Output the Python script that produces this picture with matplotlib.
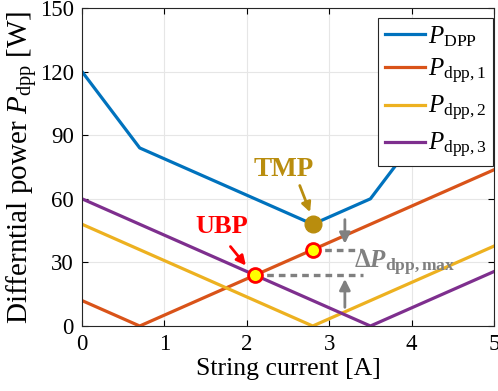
import matplotlib
matplotlib.use("Agg")
import matplotlib.pyplot as plt

plt.rcParams['font.family'] = ['Liberation Serif', 'DejaVu Serif']
plt.rcParams['mathtext.fontset'] = 'custom'
plt.rcParams['mathtext.rm'] = 'Liberation Serif'
plt.rcParams['mathtext.it'] = 'Liberation Serif:italic'
plt.rcParams['mathtext.bf'] = 'Liberation Serif:bold'
plt.rcParams['mathtext.bfit'] = 'Liberation Serif:italic:bold'

# data (vertices)
x_DPP = [0, 0.7, 2.8, 3.5, 5]
y_DPP = [120, 84, 48, 60, 137]
x_d1 = [0, 0.7, 5]
y_d1 = [12, 0, 73.7]
x_d2 = [0, 2.8, 5]
y_d2 = [48, 0, 37.7]
x_d3 = [0, 3.5, 5]
y_d3 = [60, 0, 25.7]

tmp_pt = (2.8, 48)
ubp_pt = (2.1, 24)
top_pt = (2.8, 36)

xticks = [0, 1, 2, 3, 4, 5]
yticks = [0, 30, 60, 90, 120, 150]

c_blue = '#0072BD'
c_red = '#D95319'
c_yel = '#EDB120'
c_pur = '#7E2F8E'
c_gold = '#B98D0E'
c_gray = '#808080'

fig = plt.figure(figsize=(4.98, 3.91), dpi=100)
ax = fig.add_axes([0.1647, 0.1662, 0.8273, 0.8133])

lw = 2.3
ax.plot(x_DPP, y_DPP, color=c_blue, lw=lw, label=r'$P_{\rm DPP}$')
ax.plot(x_d1, y_d1, color=c_red, lw=lw, label=r'$P_{\rm dpp,1}$')
ax.plot(x_d2, y_d2, color=c_yel, lw=lw, label=r'$P_{\rm dpp,2}$')
ax.plot(x_d3, y_d3, color=c_pur, lw=lw, label=r'$P_{\rm dpp,3}$')

# dashed guide lines
ax.plot([ubp_pt[0], 3.41], [ubp_pt[1], ubp_pt[1]], '--', color=c_gray, lw=2.4, dashes=(2, 1.5), zorder=3)
ax.plot([top_pt[0], 3.41], [top_pt[1], top_pt[1]], '--', color=c_gray, lw=2.4, dashes=(2, 1.5), zorder=3)

# markers
ax.plot(*tmp_pt, 'o', color=c_gold, ms=12, zorder=5)
ax.plot(*ubp_pt, 'o', mfc='yellow', mec='red', mew=2, ms=10, zorder=5)
ax.plot(*top_pt, 'o', mfc='yellow', mec='red', mew=2, ms=10, zorder=5)

# annotations
ax.annotate('', xy=(3.19, 37.5), xytext=(3.19, 51.5),
            arrowprops=dict(arrowstyle='-|>', color=c_gray, lw=2, mutation_scale=16))
ax.annotate('', xy=(3.19, 23.5), xytext=(3.19, 7.5),
            arrowprops=dict(arrowstyle='-|>', color=c_gray, lw=2, mutation_scale=16))
ax.text(3.3, 29.5, r'$\mathbf{\Delta}\mathbfit{P}_{\mathbf{dpp,max}}$', color=c_gray,
        fontsize=18, va='center', ha='left')

ax.annotate('', xy=(2.78, 52.5), xytext=(2.63, 67.5),
            arrowprops=dict(arrowstyle='-|>', color=c_gold, lw=2, mutation_scale=14))
ax.text(2.45, 74, 'TMP', color=c_gold, fontsize=19.5, fontweight='bold', ha='center', va='center')

ax.annotate('', xy=(2.01, 27.5), xytext=(1.78, 38.5),
            arrowprops=dict(arrowstyle='-|>', color='red', lw=2, mutation_scale=14))
ax.text(1.69, 47, 'UBP', color='red', fontsize=19, fontweight='bold', ha='center', va='center')

ax.set_xlim(0, 5)
ax.set_ylim(0, 150)
ax.set_xticks(xticks)
ax.set_yticks(yticks)
ax.tick_params(direction='in', labelsize=16.5, length=4, top=True, right=True, pad=6)
ax.grid(True, color='#E6E6E6', lw=0.8)
ax.set_axisbelow(True)
for s in ax.spines.values():
    s.set_color('#262626')
    s.set_linewidth(0.8)

ax.set_xlabel('String current [A]', fontsize=18.5, labelpad=2)
ax.set_ylabel(r'Differntial power $P_{\rm dpp}$ [W]', fontsize=21, labelpad=0)

leg = ax.legend(loc='upper right', bbox_to_anchor=(0.998, 0.969), fontsize=18,
                handlelength=1.6, fancybox=False, framealpha=1, edgecolor='#262626',
                borderpad=0.25, labelspacing=0.32, handletextpad=0.15, borderaxespad=0)
leg.get_frame().set_linewidth(0.8)

fig.savefig('out.png', dpi=100)
